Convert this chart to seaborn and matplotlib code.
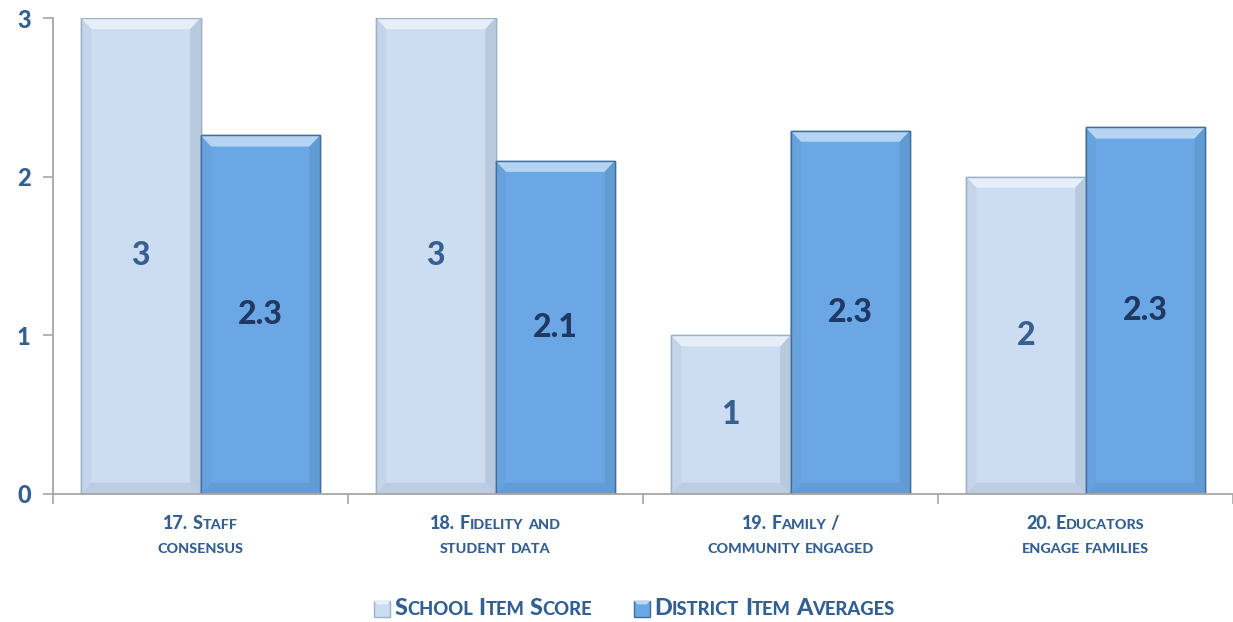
import matplotlib
matplotlib.use("Agg")
import matplotlib.pyplot as plt
import matplotlib.colors as mcolors
import seaborn as sns
import pandas as pd
import numpy as np
from matplotlib.offsetbox import TextArea, HPacker, VPacker, AnnotationBbox, DrawingArea
from matplotlib.patches import Rectangle, Polygon

# ---------------- data ----------------
categories = ["17. Staff\nconsensus", "18. Fidelity and\nstudent data",
              "19. Family /\ncommunity engaged", "20. Educators\nengage families"]
school_scores = [3, 3, 1, 2]
district_averages = [2.26, 2.10, 2.29, 2.31]
series_names = ["School Item Score", "District Item Averages"]
y_ticks = [0, 1, 2, 3]

# ---------------- style ----------------
sns.set_theme(style="white")
FAMILY = ['Lato', 'DejaVu Sans']
plt.rcParams['font.family'] = FAMILY
WEIGHT = 900

TEXT_COLOR = "#335F91"
palette = {series_names[0]: "#CCDDF2", series_names[1]: "#6AA7E4"}
edge_colors = ["#9CB0C8", "#3F6E9F"]
value_colors = ["#366092", "#1F3864"]
SPINE = "#A6A6A6"

df = pd.DataFrame({
    "category": categories * 2,
    "series": [series_names[0]] * len(categories) + [series_names[1]] * len(categories),
    "value": school_scores + district_averages,
})

fig = plt.figure(figsize=(12.33, 6.22), dpi=100)
ax = fig.add_axes([0.043, 0.206, 0.957, 0.765])

sns.barplot(data=df, x="category", y="value", hue="series", order=categories,
            hue_order=series_names, palette=palette, saturation=1, width=0.81,
            ax=ax, legend=False, errorbar=None)


def mix(c, other, t):
    a = np.array(mcolors.to_rgb(c))
    b = np.array(mcolors.to_rgb(other))
    return tuple(a * (1 - t) + b * t)


# bevel effect derived from the drawn bars
dx, dy = 0.035, 0.07
for ci, cont in enumerate(ax.containers):
    base = palette[series_names[ci]]
    for p in cont.patches:
        p.set_edgecolor(edge_colors[ci])
        p.set_linewidth(1.0)
        x0, y0, w, h = p.get_x(), p.get_y(), p.get_width(), p.get_height()
        x1, y1 = x0 + w, y0 + h
        z = p.get_zorder() + 0.1
        top = Polygon([(x0, y1), (x1, y1), (x1 - dx, y1 - dy), (x0 + dx, y1 - dy)],
                      closed=True, facecolor=mix(base, "white", 0.5), edgecolor="none", zorder=z)
        bottom = Polygon([(x0, y0), (x1, y0), (x1 - dx, y0 + dy), (x0 + dx, y0 + dy)],
                         closed=True, facecolor=mix(base, "#30405a", 0.10), edgecolor="none", zorder=z)
        right = Polygon([(x1, y0), (x1, y1), (x1 - dx, y1 - dy), (x1 - dx, y0 + dy)],
                        closed=True, facecolor=mix(base, "#30405a", 0.13), edgecolor="none", zorder=z)
        left = Polygon([(x0, y0), (x0, y1), (x0 + dx, y1 - dy), (x0 + dx, y0 + dy)],
                       closed=True, facecolor=mix(base, "#30405a", 0.05), edgecolor="none", zorder=z)
        for poly in (top, bottom, right, left):
            ax.add_patch(poly)
        outline = Rectangle((x0, y0), w, h, facecolor="none", edgecolor=edge_colors[ci],
                            linewidth=1.0, zorder=z + 0.1)
        ax.add_patch(outline)

# value labels
for ci, cont in enumerate(ax.containers):
    ax.bar_label(cont, fmt="{:.2g}", label_type="center", fontsize=23, fontweight=WEIGHT,
                 color=value_colors[ci], zorder=10)

# axes
ax.set_xlim(-0.5, len(categories) - 0.5)
ax.set_ylim(0, 3)
ax.set_yticks(y_ticks)
ax.set_yticklabels([str(t) for t in y_ticks], fontsize=17, fontweight=WEIGHT, color=TEXT_COLOR)
ax.set_xticks([])
ax.set_xticks(np.arange(len(categories) + 1) - 0.5, minor=True)
ax.tick_params(axis="x", which="minor", direction="out", length=7, color=SPINE, width=1.2, bottom=True)
ax.tick_params(axis="y", direction="out", length=7, color=SPINE, width=1.2, left=True, pad=9)
ax.set_xlabel("")
ax.set_ylabel("")
for s in ["top", "right"]:
    ax.spines[s].set_visible(False)
for s in ["left", "bottom"]:
    ax.spines[s].set_color(SPINE)
    ax.spines[s].set_linewidth(1.3)
ax.grid(False)


# small-caps text helper
def smallcaps_line(text, big, small, color, space):
    children = []
    words = text.split(" ")
    for wi, word in enumerate(words):
        runs = []
        for ch in word:
            size = small if ch.islower() else big
            if runs and runs[-1][1] == size:
                runs[-1][0] += ch.upper()
            else:
                runs.append([ch.upper(), size])
        for t, sz in runs:
            children.append(TextArea(t, textprops=dict(fontsize=sz, fontweight=WEIGHT,
                                                       color=color, family=FAMILY)))
        if wi < len(words) - 1:
            children.append(DrawingArea(space, 1))
    return HPacker(children=children, align="baseline", pad=0, sep=0)


def smallcaps_block(text, big, small, color, space, sep):
    lines = [smallcaps_line(l, big, small, color, space) for l in text.split("\n")]
    return VPacker(children=lines, align="center", pad=0, sep=sep)


for i, cat in enumerate(categories):
    box = smallcaps_block(cat, 13, 10.3, TEXT_COLOR, 3.4, 7.5)
    ab = AnnotationBbox(box, (i, 0), xycoords=ax.get_xaxis_transform(),
                        xybox=(0, -15.5), boxcoords="offset points",
                        box_alignment=(0.5, 1), frameon=False, pad=0)
    ax.add_artist(ab)

# legend built from the series names
legend_children = []
for si, name in enumerate(series_names):
    da = DrawingArea(11.5, 11.5)
    da.add_artist(Rectangle((0, 0), 11.5, 11.5, facecolor=palette[name],
                            edgecolor=edge_colors[si], linewidth=1))
    da.add_artist(Polygon([(0, 11.5), (11.5, 11.5), (9, 9), (2.5, 9)], closed=True,
                          facecolor=mix(palette[name], "white", 0.55), edgecolor="none"))
    legend_children.append(da)
    legend_children.append(DrawingArea(3, 1))
    legend_children.append(smallcaps_line(name, 16.8, 13.2, TEXT_COLOR, 4))
    if si < len(series_names) - 1:
        legend_children.append(DrawingArea(30, 1))
legend_box = HPacker(children=legend_children, align="center", pad=0, sep=0)
lab = AnnotationBbox(legend_box, (0.5146, 0.021), xycoords="figure fraction",
                     box_alignment=(0.5, 0.5), frameon=False, pad=0)
fig.add_artist(lab)

fig.savefig("out.png", dpi=100)
